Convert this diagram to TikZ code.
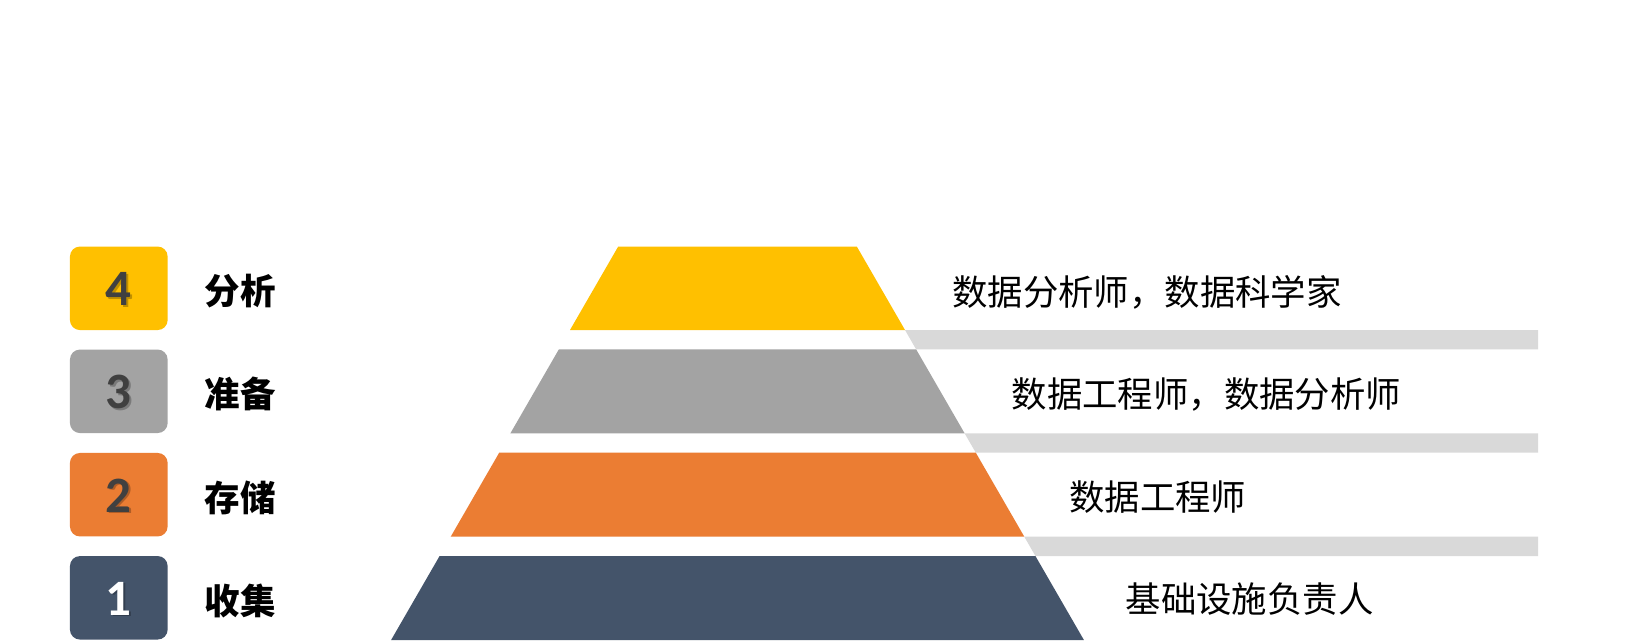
\documentclass[tikz,border=0pt]{standalone}
\usepackage{fontspec}
\setmainfont{Carlito}
\newfontfamily\cjk{Noto Sans CJK SC}
\definecolor{cyel}{HTML}{FFC000}
\definecolor{cgry}{HTML}{A3A3A3}
\definecolor{corg}{HTML}{EB7D33}
\definecolor{cnav}{HTML}{44546A}
\definecolor{cbar}{HTML}{D9D9D9}
\definecolor{cdig}{HTML}{404040}
\begin{document}
\begin{tikzpicture}[x=1pt,y=-1pt,
  numbox/.style={rounded corners=10pt, minimum width=97.7pt, minimum height=83.5pt, inner sep=0pt, draw=none},
  digit/.style={anchor=base, inner sep=0pt, font=\fontsize{51}{55}\selectfont\bfseries},
  shadowdigit/.style={digit, text=black, opacity=0.25},
  stage/.style={anchor=base west, inner sep=0pt, font=\cjk\fontsize{35.5}{40}\selectfont\bfseries},
  role/.style={anchor=base west, inner sep=0pt, font=\cjk\fontsize{35.4}{40}\selectfont, text=black}]
\useasboundingbox (0,0) rectangle (1627,640);
\fill[white] (0,0) rectangle (1627,640);

% grey connector bars
\fill[cbar] (905,330) -- (916.1,349.3) -- (1538,349.3) -- (1538,330) -- cycle;
\fill[cbar] (964.6,433.3) -- (975.8,452.7) -- (1538,452.7) -- (1538,433.3) -- cycle;
\fill[cbar] (1024.3,536.7) -- (1035.4,556) -- (1538,556) -- (1538,536.7) -- cycle;

% pyramid layers
\fill[cyel] (618.1,246.7) -- (856.9,246.7) -- (905,330) -- (570,330) -- cycle;
\fill[cgry] (558.9,349.3) -- (916.1,349.3) -- (964.6,433.3) -- (510.4,433.3) -- cycle;
\fill[corg] (499.2,452.7) -- (975.8,452.7) -- (1024.3,536.7) -- (450.7,536.7) -- cycle;
\fill[cnav] (439.6,556) -- (1035.4,556) -- (1083.9,640) -- (391.1,640) -- cycle;

% number boxes
\node[numbox, fill=cyel] (b4) at (118.8,288.3) {};
\node[numbox, fill=cgry] (b3) at (118.8,391.3) {};
\node[numbox, fill=corg] (b2) at (118.8,494.7) {};
\node[numbox, fill=cnav] (b1) at (118.8,597.8) {};

\node[shadowdigit] at (120.6,307.3) {4};
\node[digit, text=cdig] (d4) at (118.8,305.8) {4};
\node[shadowdigit] at (120.6,410.3) {3};
\node[digit, text=cdig] (d3) at (118.8,408.8) {3};
\node[shadowdigit] at (120.6,513.7) {2};
\node[digit, text=cdig] (d2) at (118.8,512.2) {2};
\node[shadowdigit] at (120.6,616.8) {1};
\node[digit, text=white] (d1) at (118.8,615.3) {1};

% stage labels
\node[stage] (s4) at (204.5,304.5) {分析};
\node[stage] (s3) at (204.5,407.5) {准备};
\node[stage] (s2) at (204.5,511) {存储};
\node[stage] (s1) at (204.5,614) {收集};

% role labels
\node[role] (r4) at (952,305) {数据分析师，数据科学家};
\node[role] (r3) at (1011.5,407) {数据工程师，数据分析师};
\node[role] (r2) at (1069,510) {数据工程师};
\node[role] (r1) at (1125.5,612) {基础设施负责人};
\end{tikzpicture}
\end{document}
